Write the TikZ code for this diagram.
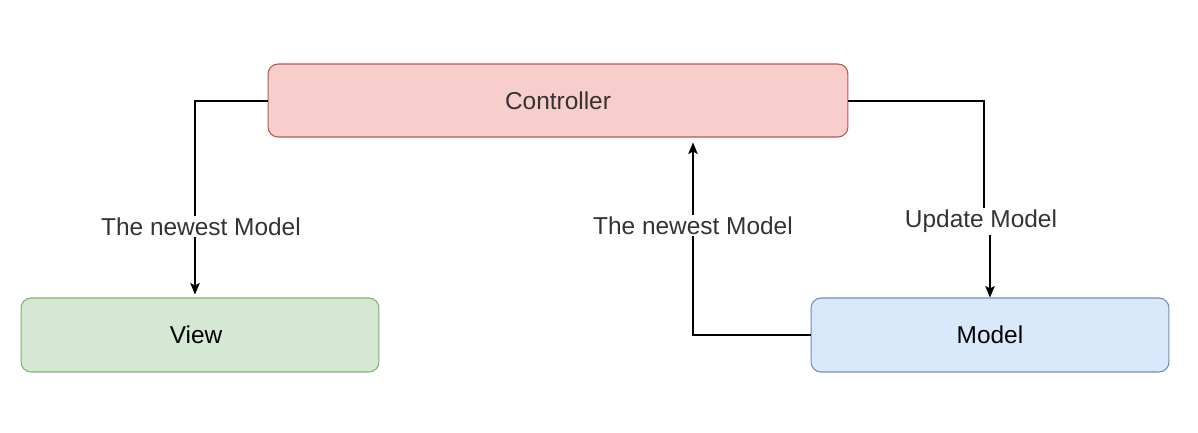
\documentclass[tikz,border=0pt]{standalone}
\usepackage{fontspec}
\setmainfont{Liberation Sans}
\usetikzlibrary{arrows.meta,calc}
\definecolor{redfill}{HTML}{F8CECC}
\definecolor{redline}{HTML}{B85450}
\definecolor{greenfill}{HTML}{D5E8D4}
\definecolor{greenline}{HTML}{82B366}
\definecolor{bluefill}{HTML}{DAE8FC}
\definecolor{blueline}{HTML}{6C8EBF}
\definecolor{txt}{HTML}{333333}
\tikzset{
  box/.style={rounded corners=0.2cm, line width=0.6pt, inner sep=0pt, font=\fontsize{13.9}{16}\selectfont},
  conn/.style={line width=0.7pt, -{Stealth[length=0.23cm,width=0.19cm,inset=0.05cm]}},
  lbl/.style={fill=white, inner sep=1pt, text=txt, font=\fontsize{13.9}{16}\selectfont}
}
\begin{document}
\begin{tikzpicture}[x=0.02cm,y=-0.02cm]
\useasboundingbox (0,0) rectangle (1198,433);
\node[box, draw=redline, fill=redfill, minimum width=11.6cm, minimum height=1.46cm, text=txt] (ctrl) at (558,100.5) {Controller};
\node[box, draw=greenline, fill=greenfill, minimum width=7.16cm, minimum height=1.48cm] (view) at (200,335) {\hspace*{-0.16cm}View};
\node[box, draw=blueline, fill=bluefill, minimum width=7.16cm, minimum height=1.48cm] (model) at (990,335) {Model};
\coordinate (c1) at (195,101);
\coordinate (c3a) at (984,101);
\coordinate (c3b) at (984,221);
\coordinate (c3c) at (990,221);
\coordinate (c2) at (693,335);
\draw[conn] (ctrl.west |- c1) -- (c1) -- ($(c1 |- view.north)+(0,-3)$);
\node[lbl] (l1) at (201,226.5) {The newest Model};
\draw[conn] (model.west |- c2) -- (c2) -- ($(c2 |- ctrl.south)+(0,5)$);
\node[lbl] (l2) at (693,225.5) {The newest Model};
\draw[conn] (ctrl.east |- c3a) -- (c3a) -- (c3b) -- (c3c) -- (c3c |- model.north);
\node[lbl] (l3) at (981,221.5) {Update Model};
\end{tikzpicture}
\end{document}
